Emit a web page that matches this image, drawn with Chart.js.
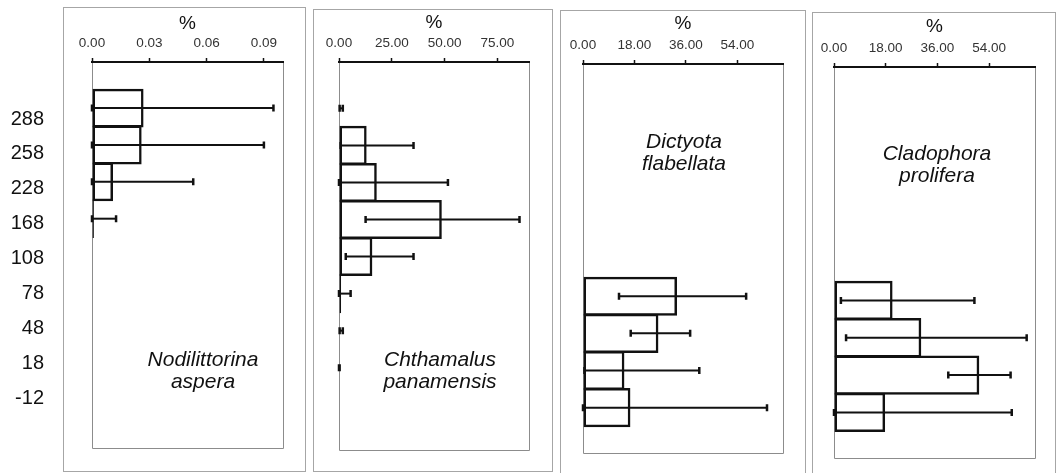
<!DOCTYPE html>
<html>
<head>
<meta charset="utf-8">
<script src="https://cdn.jsdelivr.net/npm/chart.js@4.4.1/dist/chart.umd.min.js"></script>
<style>
  html, body { margin: 0; padding: 0; background: #fff; }
  #wrap { position: relative; width: 1057px; height: 473px; overflow: hidden; background: #fff; }
  .frame { position: absolute; border: 1px solid #a6a6a6; box-sizing: border-box; }
  canvas { position: absolute; top: 0; }
  .sp { position: absolute; width: 200px; text-align: center; font: italic 21px/22px "Liberation Sans", Arial, sans-serif; color: #111; }
</style>
</head>
<body>
<div id="wrap">
  <div class="frame" style="left:63px;top:7px;width:243px;height:465px;"></div>
  <div class="frame" style="left:313px;top:9px;width:240px;height:463px;"></div>
  <div class="frame" style="left:560px;top:10px;width:246px;height:480px;"></div>
  <div class="frame" style="left:812px;top:12px;width:244px;height:480px;"></div>
  <canvas id="c1" width="300" height="473" style="left:0px"></canvas>
  <canvas id="c2" width="240" height="473" style="left:313px"></canvas>
  <canvas id="c3" width="245" height="473" style="left:560px"></canvas>
  <canvas id="c4" width="245" height="473" style="left:812px"></canvas>
  <div class="sp" style="left:103px;top:348px;">Nodilittorina<br>aspera</div>
  <div class="sp" style="left:340px;top:348px;">Chthamalus<br>panamensis</div>
  <div class="sp" style="left:584px;top:130px;">Dictyota<br>flabellata</div>
  <div class="sp" style="left:837px;top:142px;">Cladophora<br>prolifera</div>
</div>
<script>
// ---- Data ----
const depthLabels = ['288', '258', '228', '168', '108', '78', '48', '18', '-12'];

// Nodilittorina aspera
const nodiMean = [0.027, 0.026, 0.011, 0.001, null, null, null, null, null];
const nodiLow  = [0, 0, 0, 0, null, null, null, null, null];
const nodiHigh = [0.095, 0.090, 0.053, 0.0126, null, null, null, null, null];

// Chthamalus panamensis
const chthMean = [null, 13.1, 17.9, 48.7, 15.8, 1.0, null, null, null];
const chthLow  = [0.3, 0.8, 0, 12.6, 3.2, 0, 0.3, 0, null];
const chthHigh = [1.8, 35.3, 51.6, 85.5, 35.3, 5.5, 1.8, 0.3, null];

// Dictyota flabellata
const dictMean = [null, null, null, null, null, 32.9, 26.4, 14.5, 16.6];
const dictLow  = [null, null, null, null, null, 12.6, 16.7, 0.5, 0];
const dictHigh = [null, null, null, null, null, 57.1, 37.5, 40.7, 64.4];

// Cladophora prolifera
const cladMean = [null, null, null, null, null, 20.4, 30.4, 50.6, 17.8];
const cladLow  = [null, null, null, null, null, 2.4, 4.2, 39.8, 0];
const cladHigh = [null, null, null, null, null, 48.9, 67.1, 61.5, 61.9];

// x-axis ranges / tick steps
const axisMax  = [0.1, 90, 70, 70];
const axisStep = [0.03, 25, 18, 18];

Chart.defaults.font.family = "'Liberation Sans', Arial, sans-serif";
Chart.defaults.color = '#222';

const innerFrame = {
  id: 'innerFrame',
  beforeDraw(chart) {
    const {ctx, chartArea: a} = chart;
    ctx.save();
    ctx.strokeStyle = '#8c8c8c';
    ctx.lineWidth = 1;
    ctx.beginPath();
    ctx.moveTo(a.left + 0.5, a.top);
    ctx.lineTo(a.left + 0.5, a.bottom + 0.5);
    ctx.lineTo(a.right + 0.5, a.bottom + 0.5);
    ctx.lineTo(a.right + 0.5, a.top);
    ctx.stroke();
    ctx.restore();
  }
};

const errorBars = {
  id: 'errorBars',
  afterDatasetsDraw(chart, args, opts) {
    const {ctx} = chart;
    const xs = chart.scales.x, ys = chart.scales.y;
    const lo = opts.low, hi = opts.high;
    ctx.save();
    ctx.strokeStyle = '#111';
    lo.forEach((l, i) => {
      if (l == null || hi[i] == null) return;
      const y = ys.getPixelForValue(i);
      const x1 = xs.getPixelForValue(l), x2 = xs.getPixelForValue(hi[i]);
      ctx.lineWidth = 2;
      ctx.beginPath();
      ctx.moveTo(x1, y); ctx.lineTo(x2, y);
      ctx.stroke();
      ctx.lineWidth = 2.5;
      ctx.beginPath();
      ctx.moveTo(x1, y - 3.5); ctx.lineTo(x1, y + 3.5);
      ctx.moveTo(x2, y - 3.5); ctx.lineTo(x2, y + 3.5);
      ctx.stroke();
    });
    ctx.restore();
  }
};

function makePanel(id, mean, low, high, k, geo, showLabels) {
  const scales = {
    x: {
      type: 'linear',
      position: 'top',
      min: 0,
      max: axisMax[k],
      ticks: {
        stepSize: axisStep[k],
        includeBounds: false,
        padding: 7,
        color: '#333',
        font: { size: 13.5 },
        maxRotation: 0,
        callback: (v) => Number(v).toFixed(2)
      },
      grid: { drawOnChartArea: false, drawTicks: true, tickLength: 4, tickColor: '#111', tickWidth: 1.5 },
      border: { display: true, color: '#111', width: 2 },
      title: { display: true, text: '%', color: '#111', font: { size: 19 }, padding: { top: geo.titlePad, bottom: 0 } },
      afterFit: (s) => { s.height = geo.top; }
    },
    y: {
      type: 'linear',
      display: false,
      reverse: true,
      offset: false,
      min: -1.25,
      max: 9.22,
      ticks: { stepSize: 1, includeBounds: false }
    }
  };
  if (showLabels) {
    scales.yl = {
      type: 'linear',
      position: 'left',
      reverse: true,
      offset: false,
      min: -1.634,
      max: 9.434,
      ticks: {
        stepSize: 1,
        includeBounds: false,
        padding: 48,
        color: '#111',
        font: { size: 20 },
        callback: (v) => (depthLabels[v] !== undefined ? depthLabels[v] : '')
      },
      grid: { display: false, drawTicks: false },
      border: { display: false },
      afterFit: (s) => { s.width = geo.left; s.paddingTop = 0; s.paddingBottom = 0; }
    };
  }
  return new Chart(document.getElementById(id), {
    type: 'bar',
    data: {
      datasets: [{
        data: mean.map((v, i) => ({ x: v, y: i })),
        backgroundColor: 'rgba(255,255,255,0)',
        borderColor: '#111',
        borderWidth: 2.5,
        borderSkipped: false,
        barPercentage: 1.054,
        categoryPercentage: 1
      }]
    },
    options: {
      indexAxis: 'y',
      responsive: false,
      animation: false,
      events: [],
      layout: { padding: { left: showLabels ? 0 : geo.left, right: geo.right, top: 0, bottom: geo.bottom } },
      scales,
      plugins: {
        legend: { display: false },
        tooltip: { enabled: false },
        errorBars: { low, high }
      }
    },
    plugins: [innerFrame, errorBars]
  });
}

makePanel('c1', nodiMean, nodiLow, nodiHigh, 0, { left: 92, right: 17, top: 62, bottom: 25, titlePad: 12.6 }, true);
makePanel('c2', chthMean, chthLow, chthHigh, 1, { left: 26, right: 24, top: 62, bottom: 23, titlePad: 11 }, false);
makePanel('c3', dictMean, dictLow, dictHigh, 2, { left: 23, right: 22, top: 64, bottom: 20, titlePad: 12 }, false);
makePanel('c4', cladMean, cladLow, cladHigh, 3, { left: 22, right: 22, top: 67, bottom: 15, titlePad: 15.3 }, false);
</script>
</body>
</html>
